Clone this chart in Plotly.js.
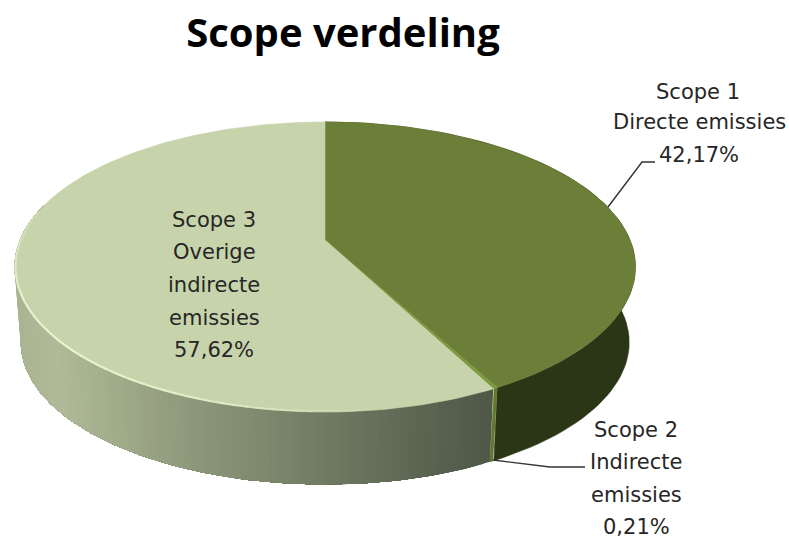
<!DOCTYPE html>
<html>
<head>
<meta charset="utf-8">
<script src="https://cdn.plot.ly/plotly-3.0.1.min.js"></script>
<style>html,body{margin:0;padding:0;background:#fff}#chart{width:789px;height:539px}</style>
</head>
<body>
<div id="chart"></div>
<script>
// Data
const categories = ["Scope 1", "Scope 2", "Scope 3"];
const descriptions = ["Directe emissies", "Indirecte emissies", "Overige indirecte emissies"];
const values = [42.17, 0.21, 57.62];
const percentLabels = ["42,17%", "0,21%", "57,62%"];
const chartTitle = "Scope verdeling";

// Style
const topColors = ["#6b7f38", "#7d9a3e", "#c7d4ab"];
const sideColors = ["#2b3616", "#5f7a2a", null];
const sideStops = [[15,[169,179,145]],[60,[176,186,153]],[120,[160,171,138]],[200,[140,150,121]],[330,[111,122,98]],[420,[92,101,82]],[495,[78,86,70]]];

// Projection of the pie disc (tilted, with perspective)
const cx = 325, cy = 240, A = 305, B = 140, K = 0.186, depth = 76, shrink = 0.98;
function proj(deg, r, lower) {
  const t = deg * Math.PI / 180, x = r * Math.sin(t), y = r * Math.cos(t), w = 1 + K * y;
  const s = lower ? shrink : 1;
  return [cx + s * A * x / w, cy + (lower ? depth : 0) - s * B * y / w];
}
function sideColor(px) {
  for (let i = 1; i < sideStops.length; i++) {
    if (px <= sideStops[i][0]) {
      const a = sideStops[i-1], b = sideStops[i], f = Math.max(0, (px - a[0]) / (b[0] - a[0]));
      return "rgb(" + a[1].map((v, j) => Math.round(v + (b[1][j] - v) * f)).join(",") + ")";
    }
  }
  return "rgb(" + sideStops[sideStops.length-1][1].join(",") + ")";
}
function poly(pts, color, lw) {
  return {type:"scatter", mode:"lines", x:pts.map(p=>p[0]), y:pts.map(p=>p[1]), fill:"toself",
    fillcolor:color, line:{color:color, width:lw === undefined ? 0.6 : lw}, hoverinfo:"skip", showlegend:false};
}
const total = values.reduce((a,b)=>a+b,0);
const angles = [0];
values.forEach(v => angles.push(angles[angles.length-1] + v / total * 360));

const traces = [];
// sides: the large slice is painted from the front toward the far end, each band covering the rest
values.forEach((v,i) => {
  const a0 = angles[i], a1 = Math.min(angles[i+1], 285);
  if (sideColors[i]) {
    const pts = [];
    for (let a = a0; a <= a1 + 1e-6; a += Math.max((a1-a0)/80, 0.2)) pts.push(proj(a,1,false));
    for (let a = a1; a >= a0 - 1e-6; a -= Math.max((a1-a0)/80, 0.2)) pts.push(proj(a,1,true));
    traces.push(poly(pts, sideColors[i]));
  }
});
values.forEach((v,i) => {
  const a0 = angles[i], a1 = Math.min(angles[i+1], 285);
  if (!sideColors[i]) {
    const step = 1.2;
    for (let s = a0; s < a1 - 1e-6; s += step) {
      const pts = [];
      for (let b = s; b < a1; b += step) pts.push(proj(b,1,false));
      pts.push(proj(a1,1,false));
      pts.push(proj(a1,1,true));
      const low = [];
      for (let b = s; b < a1; b += step) low.push(proj(b,1,true));
      low.reverse().forEach(p => pts.push(p));
      const m = proj(s + step / 2, 1, true);
      traces.push(poly(pts, sideColor(m[0]), 0));
    }
  }
});
// top wedges
values.forEach((v,i) => {
  const pts = [proj(0,0,false)];
  const n = Math.max(3, Math.ceil(v * 3));
  for (let j = 0; j <= n; j++) pts.push(proj(angles[i] + (angles[i+1]-angles[i]) * j / n, 1, false));
  pts.push(proj(0,0,false));
  traces.push(poly(pts, topColors[i]));
});
// rim highlight on the large slice
for (let a = 172; a < 282; a += 2) {
  const p = proj(a,0.997,false), q = proj(a+2.2,0.997,false);
  const f = Math.sin((a - 172) / 110 * Math.PI);
  traces.push({type:"scatter", mode:"lines", x:[p[0],q[0]], y:[p[1],q[1]],
    line:{color:"rgba(232,244,208," + (0.15 + 0.85 * f).toFixed(2) + ")", width:2},
    hoverinfo:"skip", showlegend:false});
}
// leader lines
traces.push({type:"scatter", mode:"lines", x:[608,642,655], y:[207,162,162], line:{color:"#333333", width:1.4}, hoverinfo:"skip", showlegend:false});
traces.push({type:"scatter", mode:"lines", x:[493,550,585], y:[460,467,467], line:{color:"#333333", width:1.4}, hoverinfo:"skip", showlegend:false});

const labelFont = {family:"'DejaVu Sans', sans-serif", size:21, color:"#262626"};
function lab(text, x, y) {
  return {text, x, y, xref:"x", yref:"y", showarrow:false, xanchor:"center", yanchor:"middle", font:labelFont};
}
const annotations = [
  lab(categories[0], 698, 92), lab(descriptions[0], 699, 122), lab(percentLabels[0], 699, 155),
  lab(categories[1], 636, 430), lab("Indirecte", 636, 462), lab("emissies", 636, 495), lab(percentLabels[1], 636, 527),
  lab(categories[2], 214, 220), lab("Overige", 214, 252), lab("indirecte", 214, 285), lab("emissies", 214, 318), lab(percentLabels[2], 214, 350)
];

Plotly.newPlot("chart", traces, {
  width:789, height:539, margin:{l:0,r:0,t:0,b:0}, showlegend:false,
  paper_bgcolor:"#ffffff", plot_bgcolor:"#ffffff",
  title:{text:chartTitle, x:343/789, xanchor:"center", y:1-33/539, yanchor:"middle",
         font:{family:"'Open Sans', sans-serif", size:40, color:"#000000", weight:700}},
  xaxis:{range:[0,789], visible:false, fixedrange:true},
  yaxis:{range:[539,0], visible:false, fixedrange:true},
  annotations
}, {displayModeBar:false, staticPlot:true});
</script>
</body>
</html>
